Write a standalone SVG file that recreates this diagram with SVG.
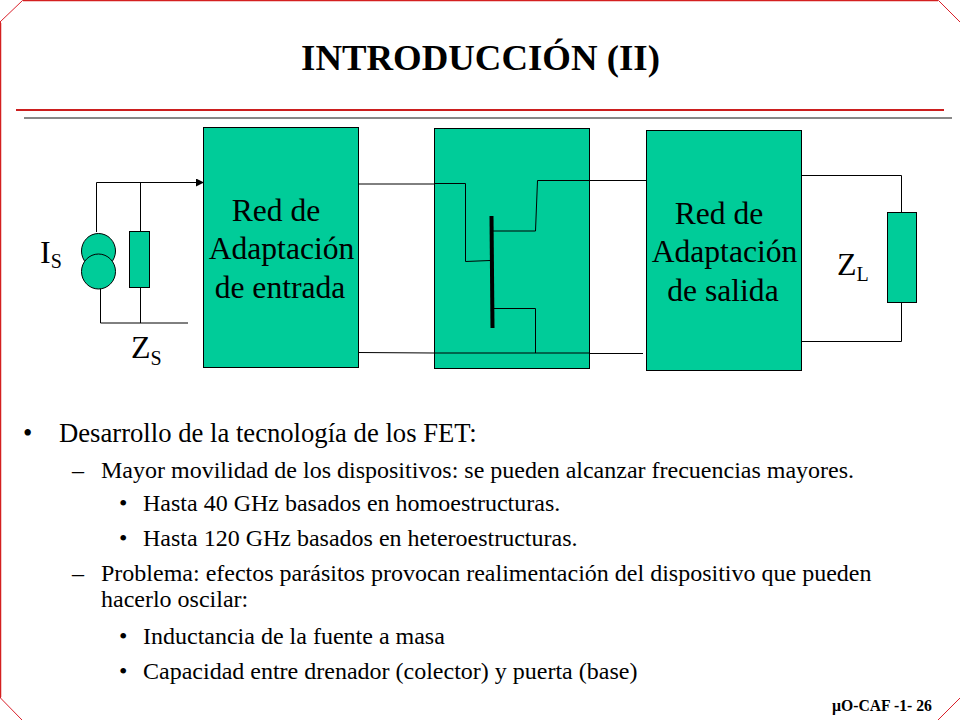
<svg xmlns="http://www.w3.org/2000/svg" width="960" height="720" viewBox="0 0 960 720">
<style>
text{font-family:"Liberation Serif","Times New Roman",serif;fill:#000}
.box{fill:#00cc99;stroke:#000;stroke-width:1}
.w{fill:none;stroke:#000;stroke-width:1}
.b{font-size:31.600px;text-anchor:middle}
.z{font-size:32px}
.s{font-size:20px}
.l1{font-size:26.670px}
.l2{font-size:24px}
.l3{font-size:24px}
</style>
<defs><marker id="arr" markerUnits="userSpaceOnUse" markerWidth="9" markerHeight="8" refX="8" refY="4" orient="auto"><path d="M0 0L8 4L0 8Z" fill="#000"/></marker></defs>
<rect width="960" height="720" fill="#fff"/>
<g id="frame">
<path d="M22.500 0.500H938.500L960 22M0 22L22.500 0.500M0.500 22V698L22 720M938 720L960 698" fill="none" stroke="#d9202a" stroke-width="1"/>
<path d="M23 0.500H938M0.500 23V697" fill="none" stroke="#d42020" stroke-width="1.500"/>
<rect x="16" y="109" width="928" height="2" fill="#cc1f1f"/>
<rect x="24" y="117" width="928" height="2" fill="#888"/>
</g>
<text id="title" x="480.500" y="70" font-size="36.800" font-weight="bold" text-anchor="middle">INTRODUCCIÓN (II)</text>
<g id="connectors">
<path class="w" d="M96.500 232V182.500H204" marker-end="url(#arr)"/>
<path class="w" d="M140.500 182V232M140.500 287V323M100.500 288V323H188"/>
<path class="w" d="M358 184H434"/>
<path class="w" d="M358 352.500L434 353"/>
<path class="w" d="M589 180.500H646M589 353.500H643"/>
<path class="w" d="M801 175.500H901.500V212M901.500 302V341.500H801"/>
</g>
<g id="red-entrada">
<rect class="box" x="203.500" y="127.500" width="155" height="240"/>
<text class="b" x="276" y="221">Red de</text>
<text class="b" x="281.500" y="259">Adaptación</text>
<text class="b" x="280" y="298">de entrada</text>
</g>
<g id="fet">
<rect class="box" x="434.500" y="128.500" width="155" height="240"/>
<path class="w" d="M434 183.500H465.500V261.500L490 260.500M492 231H535.500L537.500 180.500H589M492 308.500H535.500V353M434 353H589"/>
<path d="M491.500 216L492.500 328" stroke="#000" stroke-width="4" fill="none"/>
</g>
<g id="red-salida">
<rect class="box" x="646.500" y="130.500" width="155" height="240"/>
<text class="b" x="719" y="224">Red de</text>
<text class="b" x="724.500" y="262">Adaptación</text>
<text class="b" x="723" y="301">de salida</text>
</g>
<g id="source">
<ellipse class="box" cx="98.500" cy="251" rx="17" ry="17.500"/>
<ellipse class="box" cx="98.500" cy="271.500" rx="17" ry="17.500"/>
<text class="z" x="40" y="263">I<tspan class="s" dy="5">S</tspan></text>
</g>
<g id="zs">
<rect class="box" x="129.500" y="231.500" width="20" height="56"/>
<text class="z" x="131" y="358">Z<tspan class="s" dy="7">S</tspan></text>
</g>
<g id="zl">
<rect class="box" x="887.500" y="212.500" width="29" height="90"/>
<text class="z" x="837" y="275">Z<tspan class="s" dy="6">L</tspan></text>
</g>
<g id="bullets">
<text class="l1" x="23" y="442">•</text>
<text class="l1" x="59" y="442">Desarrollo de la tecnología de los FET:</text>
<text class="l2" x="72" y="478">–</text>
<text class="l2" x="101" y="478">Mayor movilidad de los dispositivos: se pueden alcanzar frecuencias mayores.</text>
<text class="l3" x="119" y="511">•</text>
<text class="l3" x="143" y="511">Hasta 40 GHz basados en homoestructuras.</text>
<text class="l3" x="119" y="546">•</text>
<text class="l3" x="143" y="546">Hasta 120 GHz basados en heteroestructuras.</text>
<text class="l2" x="72" y="581">–</text>
<text class="l2" x="101" y="581">Problema: efectos parásitos provocan realimentación del dispositivo que pueden</text>
<text class="l2" x="101" y="607">hacerlo oscilar:</text>
<text class="l3" x="119" y="644">•</text>
<text class="l3" x="143" y="644">Inductancia de la fuente a masa</text>
<text class="l3" x="119" y="679">•</text>
<text class="l3" x="143" y="679">Capacidad entre drenador (colector) y puerta (base)</text>
</g>
<text id="footer" x="832" y="711" font-size="15.700" font-weight="bold">µO-CAF -1- 26</text>
</svg>
